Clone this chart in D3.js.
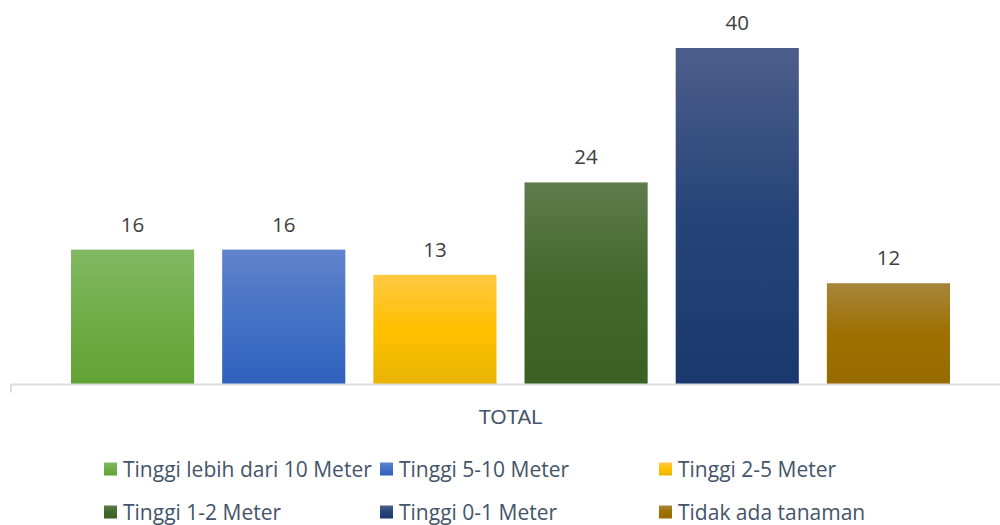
<!DOCTYPE html>
<html><head><meta charset="utf-8">
<script src="https://cdn.jsdelivr.net/npm/d3@7"></script>
<style>body{margin:0;background:#fff;} svg{display:block;font-family:"Open Sans",sans-serif;}</style>
</head><body>
<svg id="c" width="1000" height="525"></svg>
<script>
const categories = ["TOTAL"];
const series = ["Tinggi lebih dari 10 Meter","Tinggi 5-10 Meter","Tinggi 2-5 Meter","Tinggi 1-2 Meter","Tinggi 0-1 Meter","Tidak ada tanaman"];
const values = [16,16,13,24,40,12];
const topColors = ["#82b864","#6084cc","#ffc843","#5e7c4c","#4d5e8c","#a8853c"];
const midColors = ["#70ad47","#4472c4","#ffc000","#43682b","#264478","#9e7000"];
const botColors = ["#62a233","#2f60bd","#e9b400","#3a6121","#1a386e","#976b00"];

const svg = d3.select("#c");
const plotLeft = 11, plotRight = 1010, plotBase = 384, plotTop = 48;
const x0 = d3.scaleBand().domain(categories).range([plotLeft, plotRight]).paddingInner(0).paddingOuter(0);
const x1 = d3.scaleBand().domain(series).range([60, 939]).paddingInner(28/151).paddingOuter(0);
const y = d3.scaleLinear().domain([0, 40]).range([plotBase, plotTop]);

const defs = svg.append("defs");
series.forEach((s,i)=>{
  const g = defs.append("linearGradient").attr("id","g"+i).attr("x1",0).attr("y1",0).attr("x2",0).attr("y2",1);
  g.append("stop").attr("offset","0%").attr("stop-color",topColors[i]);
  g.append("stop").attr("offset","50%").attr("stop-color",midColors[i]);
  g.append("stop").attr("offset","100%").attr("stop-color",botColors[i]);
});

const grp = svg.append("g").attr("transform",`translate(${x0("TOTAL")},0)`);
grp.selectAll("rect").data(values).join("rect")
  .attr("x",(d,i)=>x1(series[i]))
  .attr("width",x1.bandwidth())
  .attr("y",d=>y(d))
  .attr("height",d=>plotBase-y(d))
  .attr("fill",(d,i)=>`url(#g${i})`);
grp.selectAll("text.v").data(values).join("text").attr("class","v")
  .attr("x",(d,i)=>x1(series[i])+x1.bandwidth()/2)
  .attr("y",d=>y(d)-18)
  .attr("text-anchor","middle")
  .attr("font-size",20.5).attr("fill","#404040")
  .text(d=>d);

// axis
const ax = svg.append("g").attr("transform",`translate(0,${plotBase})`)
  .call(d3.axisBottom(x0).tickSize(0).tickPadding(25));
ax.select(".domain").remove();
ax.selectAll("text").attr("font-size",20.5).attr("fill","#44546a").attr("font-family",null);
svg.append("path").attr("d",`M${plotLeft},${plotBase+8.5}V${plotBase+0.5}H${plotRight}`)
  .attr("fill","none").attr("stroke","#d9dde4").attr("stroke-width",2);

// legend
const legX = [104,380,659], legY=[469,512];
const leg = svg.append("g");
series.forEach((s,i)=>{
  const col=i%3,row=Math.floor(i/3);
  const g=leg.append("g").attr("transform",`translate(${legX[col]},${legY[row]})`);
  g.append("rect").attr("x",0).attr("y",-6.5).attr("width",13).attr("height",13).attr("fill",`url(#g${i})`);
  g.append("text").attr("x",19).attr("y",7.5).attr("font-size",21).attr("fill","#44546a").text(s);
});
</script>
</body></html>
